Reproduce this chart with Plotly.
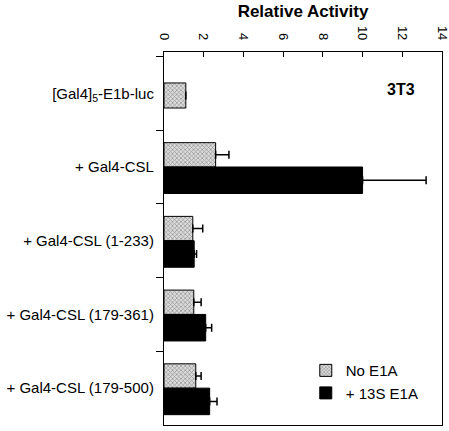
import plotly.graph_objects as go

categories = ["[Gal4]<sub>5</sub>-E1b-luc", "+ Gal4-CSL", "+ Gal4-CSL (1-233)",
              "+ Gal4-CSL (179-361)", "+ Gal4-CSL (179-500)"]
no_e1a = [1.1, 2.6, 1.45, 1.5, 1.6]
no_e1a_err = [0, 0.67, 0.5, 0.37, 0.27]
e1a_13s = [None, 10.0, 1.52, 2.1, 2.3]
e1a_13s_err = [0, 3.2, 0.12, 0.3, 0.37]
x_ticks = [0, 2, 4, 6, 8, 10, 12, 14]

FONT = "Liberation Sans, Arial, Helvetica, sans-serif"

gray_offset = [-0.14, -0.33, -0.33, -0.33, -0.33]
gray_width = [0.34, 0.33, 0.33, 0.33, 0.33]
black_offset = [0, 0, 0, 0, 0]
black_width = [0.36, 0.36, 0.36, 0.36, 0.36]

fig = go.Figure()
fig.add_trace(go.Bar(
    name="No E1A", y=categories, x=no_e1a, orientation="h",
    offset=gray_offset, width=gray_width,
    marker=dict(color="#d8d8d8", line=dict(color="black", width=1),
                pattern=dict(shape="x", size=3, solidity=0.4,
                             fgcolor="#444444", bgcolor="#dcdcdc")),
    error_x=dict(type="data", array=no_e1a_err, symmetric=False,
                 arrayminus=[0]*5, color="black", thickness=1.5, width=4),
))
fig.add_trace(go.Bar(
    name="+ 13S E1A", y=categories, x=e1a_13s, orientation="h",
    offset=black_offset, width=black_width,
    marker=dict(color="black", line=dict(color="black", width=1)),
    error_x=dict(type="data", array=e1a_13s_err, symmetric=False,
                 arrayminus=[0]*5, color="black", thickness=1.5, width=4),
))

fig.update_layout(
    width=449, height=431,
    margin=dict(l=164, r=7, t=52, b=6, autoexpand=False),
    barmode="overlay",
    plot_bgcolor="white", paper_bgcolor="white",
    font=dict(family=FONT, color="black", size=15),
    title=dict(text="<b>Relative Activity</b>", x=0.5, xref="paper",
               xanchor="center", y=1 - 11/431, yref="container",
               yanchor="middle", font=dict(size=17, family=FONT)),
    showlegend=True,
    legend=dict(x=0.51, y=0.19, xanchor="left", yanchor="top",
                bgcolor="rgba(0,0,0,0)", traceorder="normal",
                font=dict(size=15, family=FONT), tracegroupgap=4),
    xaxis=dict(side="top", range=[0, 14], tickvals=x_ticks,
               ticks="inside", ticklen=5, tickwidth=1, tickcolor="black",
               tickangle=90, tickfont=dict(size=13), showgrid=False,
               zeroline=False, showline=True, linecolor="black",
               linewidth=1.2, mirror=True, ticklabelstandoff=6,
               automargin=False, ticklabeloverflow="allow"),
    yaxis=dict(range=[4.5, -0.56], ticks="outside", tickson="boundaries",
               ticklen=7, tickwidth=1, tickcolor="black",
               showgrid=False, zeroline=False, showline=True,
               linecolor="black", linewidth=1.2, mirror=True,
               tickfont=dict(size=15), ticklabelstandoff=6,
               automargin=False, ticklabeloverflow="allow"),
    annotations=[dict(text="<b>3T3</b>", x=0.91, y=0.90, xref="paper",
                      yref="paper", xanchor="right", yanchor="middle",
                      showarrow=False, font=dict(size=16, family=FONT))],
)

fig.write_html("out.html", config={"displayModeBar": False},
               post_script="document.body.style.margin='0px';")
